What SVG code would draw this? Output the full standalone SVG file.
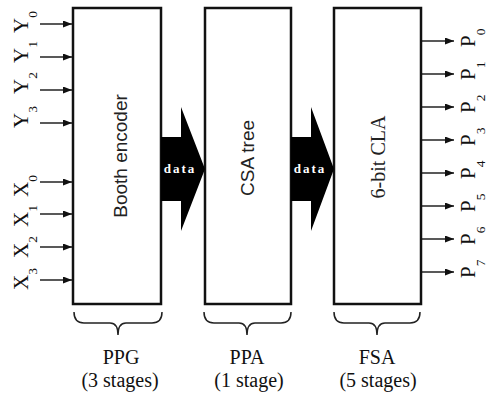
<svg xmlns="http://www.w3.org/2000/svg" width="488" height="397" viewBox="0 0 488 397">
<style>
.box{fill:#fff;stroke:#111;stroke-width:2.5}
.wire{stroke:#222;stroke-width:1.5;fill:none}
.sig{font-family:"Liberation Serif","Times New Roman",serif;font-size:21px;fill:#111}
.sub{font-size:13.5px}
.blk{font-family:"Liberation Sans",Arial,sans-serif;font-size:19px;fill:#222;text-anchor:middle}
.blks{font-family:"Liberation Serif","Times New Roman",serif;font-size:20px;fill:#222;text-anchor:middle}
.data{font-family:"Liberation Serif","Times New Roman",serif;font-weight:bold;font-size:13px;fill:#fff;letter-spacing:2px;text-anchor:middle}
.cap{font-family:"Liberation Serif","Times New Roman",serif;font-size:20px;fill:#111;text-anchor:middle}
.brace{stroke:#222;stroke-width:1.5;fill:none}
</style>
<defs>
<marker id="ah" markerUnits="userSpaceOnUse" markerWidth="10" markerHeight="8" refX="9" refY="3.5" orient="auto">
<path d="M0,0 L9,3.5 L0,7 z" fill="#111"/>
</marker>
</defs>

<g id="connectors">
<line class="wire" x1="40" y1="24" x2="72" y2="24" marker-end="url(#ah)"/>
<line class="wire" x1="40" y1="57" x2="72" y2="57" marker-end="url(#ah)"/>
<line class="wire" x1="40" y1="90" x2="72" y2="90" marker-end="url(#ah)"/>
<line class="wire" x1="40" y1="123" x2="72" y2="123" marker-end="url(#ah)"/>
<line class="wire" x1="40" y1="182" x2="72" y2="182" marker-end="url(#ah)"/>
<line class="wire" x1="40" y1="214" x2="72" y2="214" marker-end="url(#ah)"/>
<line class="wire" x1="40" y1="247" x2="72" y2="247" marker-end="url(#ah)"/>
<line class="wire" x1="40" y1="280" x2="72" y2="280" marker-end="url(#ah)"/>

<line class="wire" x1="422" y1="41" x2="454" y2="41" marker-end="url(#ah)"/>
<line class="wire" x1="422" y1="74" x2="454" y2="74" marker-end="url(#ah)"/>
<line class="wire" x1="422" y1="107" x2="454" y2="107" marker-end="url(#ah)"/>
<line class="wire" x1="422" y1="140" x2="454" y2="140" marker-end="url(#ah)"/>
<line class="wire" x1="422" y1="173" x2="454" y2="173" marker-end="url(#ah)"/>
<line class="wire" x1="422" y1="206" x2="454" y2="206" marker-end="url(#ah)"/>
<line class="wire" x1="422" y1="239" x2="454" y2="239" marker-end="url(#ah)"/>
<line class="wire" x1="422" y1="272" x2="454" y2="272" marker-end="url(#ah)"/>
</g>

<g id="inputs">
<text class="sig" transform="translate(28,33) rotate(-90)">Y<tspan class="sub" dy="9">0</tspan></text>
<text class="sig" transform="translate(28,63) rotate(-90)">Y<tspan class="sub" dy="9">1</tspan></text>
<text class="sig" transform="translate(28,94) rotate(-90)">Y<tspan class="sub" dy="9">2</tspan></text>
<text class="sig" transform="translate(28,128) rotate(-90)">Y<tspan class="sub" dy="9">3</tspan></text>
<text class="sig" transform="translate(28,197) rotate(-90)">X<tspan class="sub" dy="9">0</tspan></text>
<text class="sig" transform="translate(28,227) rotate(-90)">X<tspan class="sub" dy="9">1</tspan></text>
<text class="sig" transform="translate(28,258) rotate(-90)">X<tspan class="sub" dy="9">2</tspan></text>
<text class="sig" transform="translate(28,290) rotate(-90)">X<tspan class="sub" dy="9">3</tspan></text>
</g>

<g id="outputs">
<text class="sig" transform="translate(475,47) rotate(-90)">P<tspan class="sub" dy="10">0</tspan></text>
<text class="sig" transform="translate(475,80) rotate(-90)">P<tspan class="sub" dy="10">1</tspan></text>
<text class="sig" transform="translate(475,113) rotate(-90)">P<tspan class="sub" dy="10">2</tspan></text>
<text class="sig" transform="translate(475,146) rotate(-90)">P<tspan class="sub" dy="10">3</tspan></text>
<text class="sig" transform="translate(475,179) rotate(-90)">P<tspan class="sub" dy="10">4</tspan></text>
<text class="sig" transform="translate(475,212) rotate(-90)">P<tspan class="sub" dy="10">5</tspan></text>
<text class="sig" transform="translate(475,245) rotate(-90)">P<tspan class="sub" dy="10">6</tspan></text>
<text class="sig" transform="translate(475,278) rotate(-90)">P<tspan class="sub" dy="10">7</tspan></text>
</g>

<g id="booth">
<rect class="box" x="73" y="8" width="88" height="296"/>
<text class="blk" transform="translate(127,156) rotate(-90)">Booth encoder</text>
</g>

<g id="csa">
<rect class="box" x="205" y="8" width="86" height="296"/>
<text class="blk" transform="translate(254,158) rotate(-90)">CSA tree</text>
</g>

<g id="cla">
<rect class="box" x="334" y="8" width="87" height="296"/>
<text class="blks" transform="translate(385,157) rotate(-90)">6-bit CLA</text>
</g>

<g id="data1">
<polygon points="161,137 181,137 181,107 205,169 181,231 181,201 161,201" fill="#000"/>
<text class="data" x="180" y="173">data</text>
</g>

<g id="data2">
<polygon points="291,137 311,137 311,107 334,169 311,231 311,201 291,201" fill="#000"/>
<text class="data" x="310" y="173">data</text>
</g>

<g id="ppg">
<path class="brace" d="M74,312 Q74,323 84,323 L110,323 Q118,323 118,335 Q118,323 126,323 L152,323 Q162,323 162,312"/>
<text class="cap" x="121" y="364">PPG</text>
<text class="cap" x="120" y="387">(3 stages)</text>
</g>

<g id="ppa">
<path class="brace" d="M204,312 Q204,323 214,323 L239,323 Q247,323 247,335 Q247,323 255,323 L281,323 Q291,323 291,312"/>
<text class="cap" x="247" y="364">PPA</text>
<text class="cap" x="249" y="387">(1 stage)</text>
</g>

<g id="fsa">
<path class="brace" d="M334,312 Q334,323 344,323 L369,323 Q377,323 377,335 Q377,323 385,323 L410,323 Q420,323 420,312"/>
<text class="cap" x="377" y="364">FSA</text>
<text class="cap" x="378" y="387">(5 stages)</text>
</g>
</svg>
